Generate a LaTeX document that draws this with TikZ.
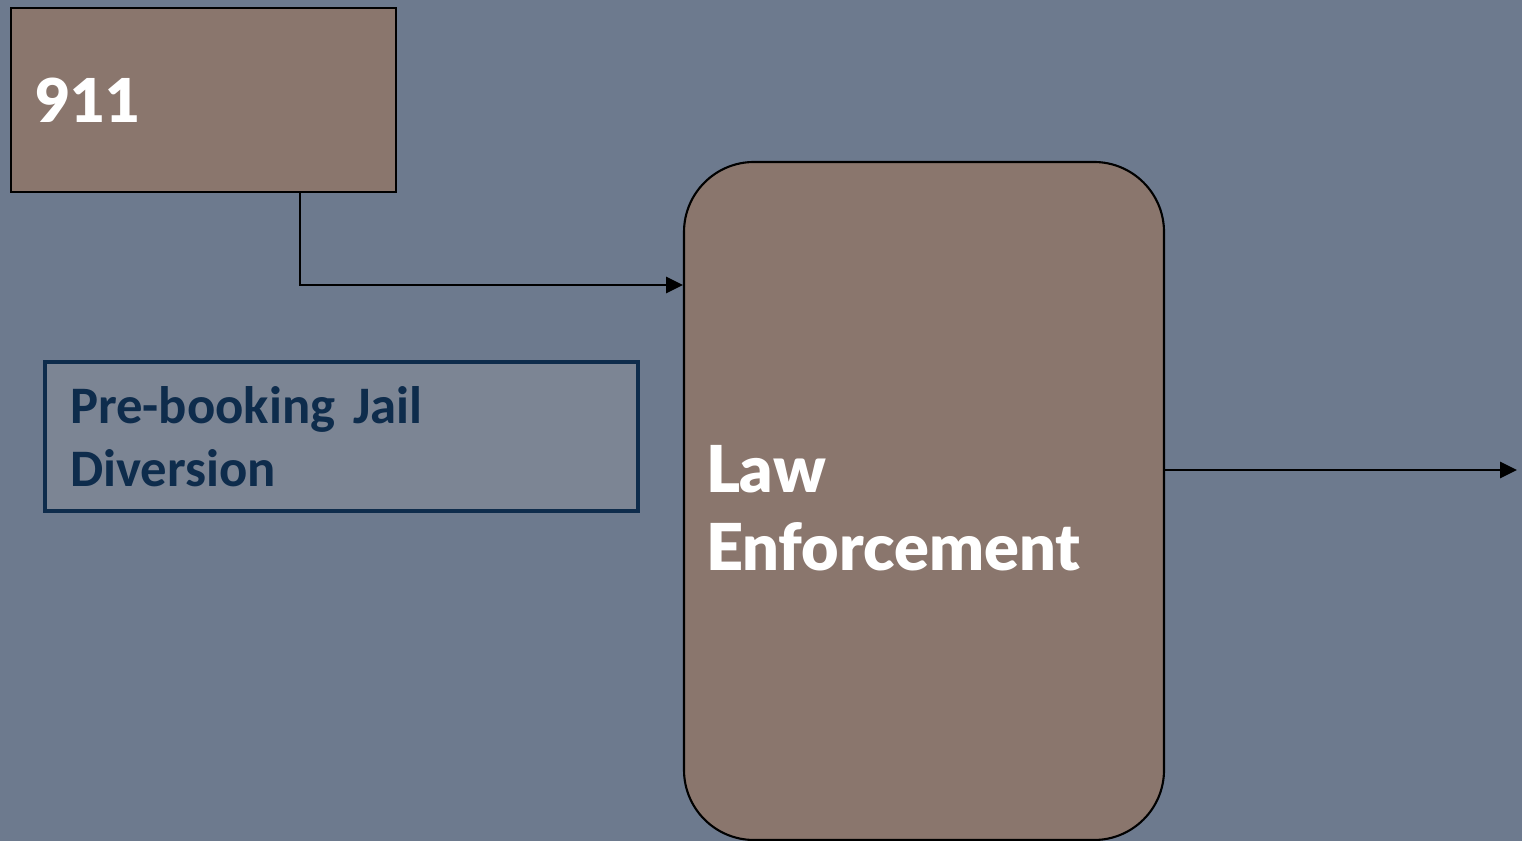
\documentclass[tikz,border=0pt]{standalone}
\usepackage{fontspec}
\usepackage{tikz}
\usetikzlibrary{arrows.meta}
\newfontfamily\gillfont{Lato Black}
\newfontfamily\calfont{Carlito}
\definecolor{slate}{HTML}{6D7A8E}
\definecolor{clay}{HTML}{8A766D}
\definecolor{mist}{HTML}{7C8594}
\definecolor{navy}{HTML}{0E2C4C}
\tikzset{
  stage/.style={draw=black, line width=0.6pt, fill=clay, text=white,
    align=left, font=\gillfont},
  link/.style={draw=black, line width=0.55pt, -{Triangle[length=4.8pt,width=4.6pt]}}
}

\begin{document}
\begin{tikzpicture}
        \useasboundingbox[fill=slate] (0,0) rectangle (15.22,-8.41);

        \node[stage, minimum width=3.85cm, minimum height=1.84cm, text width=3.37cm,
              inner xsep=0.24cm, font=\gillfont\fontsize{17.2}{20}\selectfont]
              (nine) at (2.035,-1.00) {\raisebox{-0.03cm}{911}};
        \node[stage, rounded corners=0.7cm, minimum width=4.80cm, minimum height=6.78cm]
              (law) at (9.24,-5.01) {};
        \node[text=white, align=left, text width=4.36cm, inner sep=0pt,
              font=\gillfont\fontsize{18.4}{22.2}\selectfont]
              (lawtext) at ([yshift=-0.07cm]law) {Law\\Enforcement};
        \node[draw=navy, line width=1.15pt, fill=mist, text=navy, align=left,
              minimum width=5.93cm, minimum height=1.49cm, text width=5.43cm, inner xsep=0.25cm,
              font=\calfont\bfseries\fontsize{15.0}{18.0}\selectfont]
              (prebook) at (3.415,-4.365) {Pre-booking Jail\\Diversion};

        %connectors
        \coordinate (tap) at (3.00,-1.92);
        \coordinate (out) at (15.17,-4.70);
        \draw[link] (tap) |- (law.west |- 0,-2.85);
        \draw[link] (law.east |- 0,-4.70) -- (out);
\end{tikzpicture}
\end{document}
